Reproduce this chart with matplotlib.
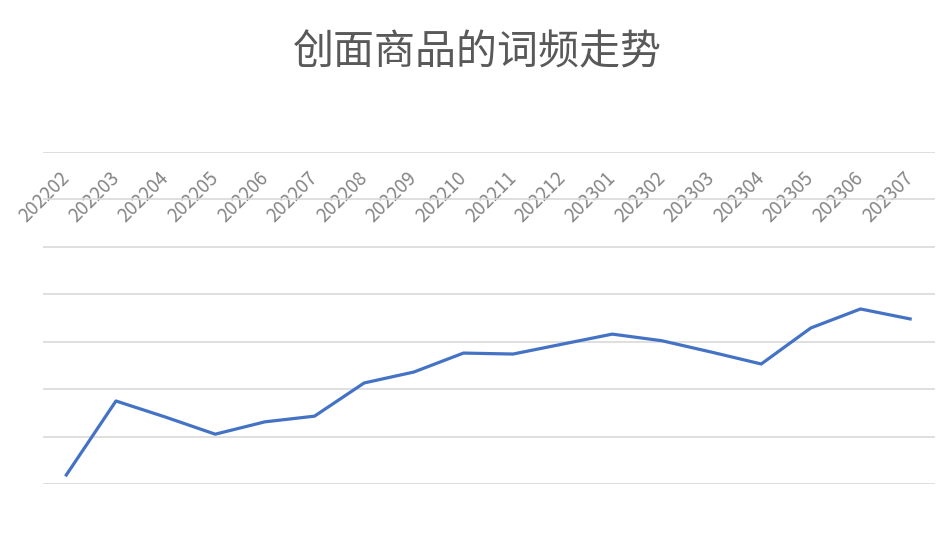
import matplotlib.pyplot as plt
import numpy as np

plt.rcParams['font.family'] = ['Noto Sans CJK SC', 'DejaVu Sans']

months = ["202202", "202203", "202204", "202205", "202206", "202207",
          "202208", "202209", "202210", "202211", "202212", "202301",
          "202302", "202303", "202304", "202305", "202306", "202307"]
freq = [19, 175, 141, 105, 131, 143, 213, 236, 276, 274, 295, 316,
        302, 278, 253, 329, 369, 348]

fig = plt.figure(figsize=(9.49, 5.38), dpi=100)
ax = fig.add_axes([0.0453, 0.1004, 0.9399, 0.6171])

x = np.arange(len(months))
ax.plot(x, freq, color="#4472C4", lw=2.3, solid_joinstyle="round", zorder=3)

ax.set_xlim(-0.47, len(months) - 0.5)
ax.set_ylim(0, 700)
ax.set_yticks(np.arange(0, 701, 100))
ax.yaxis.grid(True, color="#d9d9d9", lw=1.2)
ax.set_axisbelow(True)
ax.tick_params(axis="y", left=False, labelleft=False)

ax.xaxis.tick_top()
ax.set_xticks(x, months)
ax.tick_params(axis="x", top=False, pad=-20, labelsize=13.5, labelcolor="#858585")
for lbl in ax.get_xticklabels():
    lbl.set_rotation(45)
    lbl.set_ha("right")
    lbl.set_va("center")
    lbl.set_rotation_mode("anchor")

for s in ax.spines.values():
    s.set_visible(False)

fig.suptitle("创面商品的词频走势", x=0.503, y=0.94, fontsize=29.5, color="#595959")

fig.savefig("out.png", dpi=100)
